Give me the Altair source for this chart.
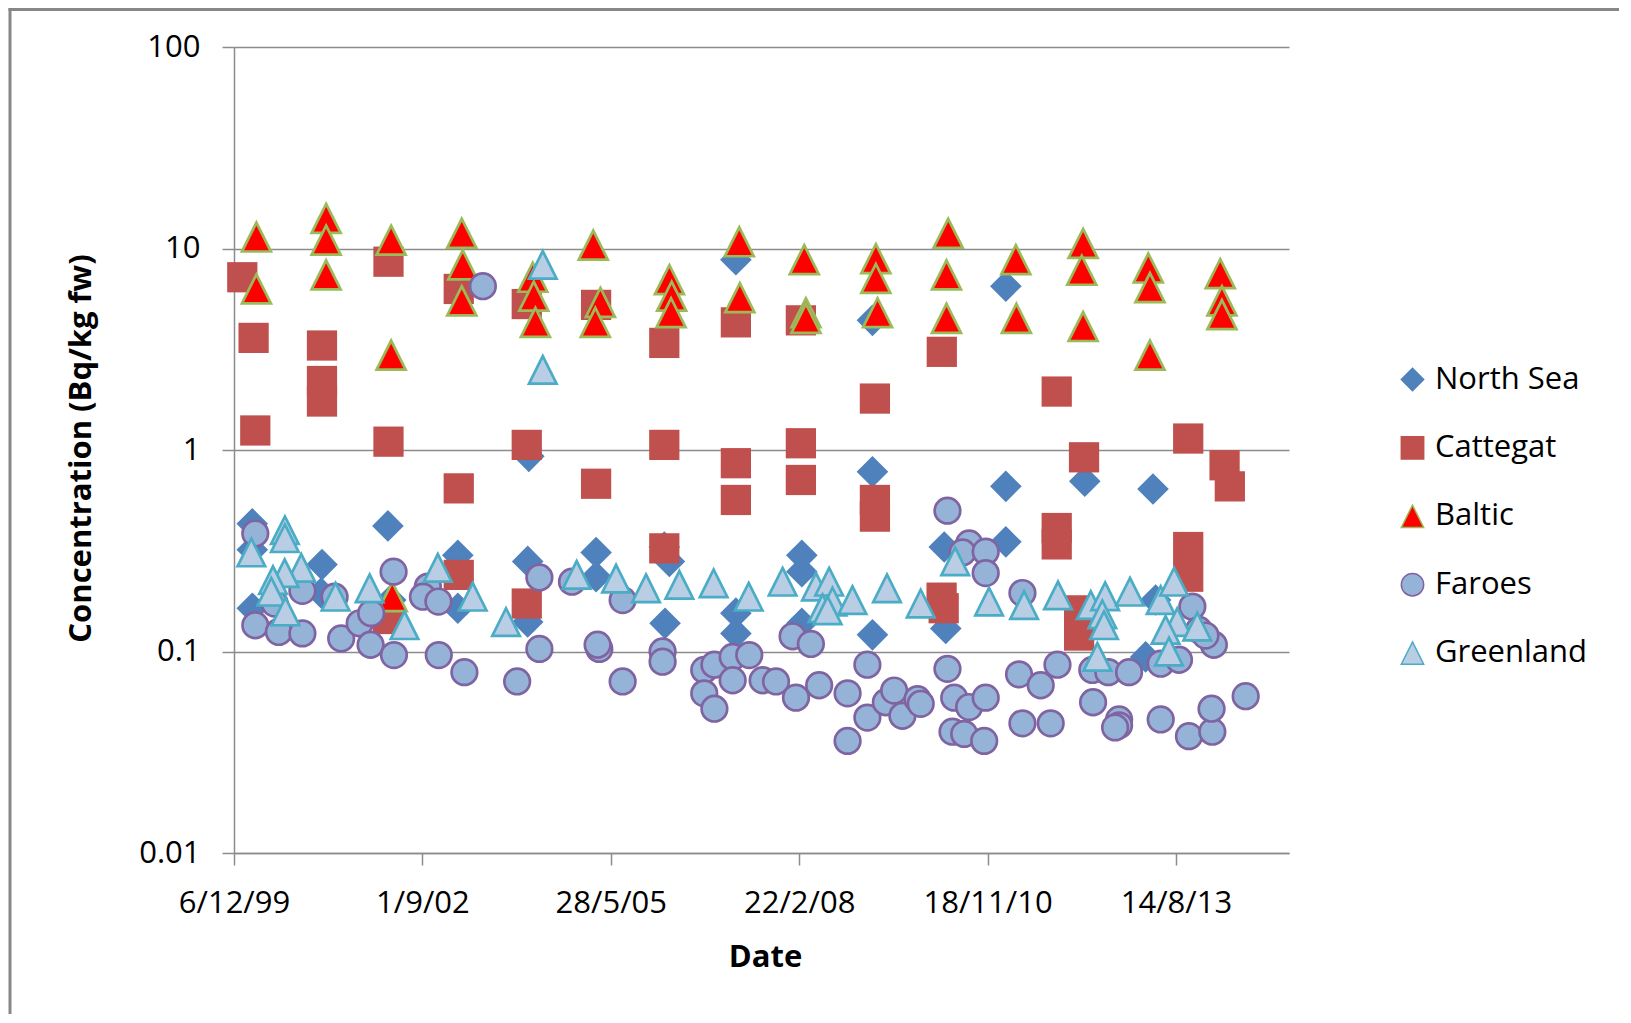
import altair as alt
import pandas as pd

# ---------------- data (dates as Excel serial day numbers) ----------------
series_names = ["North Sea", "Cattegat", "Baltic", "Faroes", "Greenland"]

ns_dates = [36597, 36597, 36597, 36967, 36963, 37317, 37332, 37688, 37688, 38065, 38059, 38059,
            38422, 38422, 38784, 38811, 38788, 39164, 39164, 39164, 39514, 39514, 39514,
            39889, 39889, 39889, 40270, 40278, 40597, 40597, 40597, 41016, 41378, 41392, 41339]
ns_vals = [0.43, 0.32, 0.164, 0.27, 0.195, 0.42, 0.18, 0.30, 0.164, 0.93, 0.28, 0.14,
           0.31, 0.235, 0.33, 0.28, 0.138, 8.8, 0.155, 0.123, 0.30, 0.249, 0.138,
           4.4, 0.78, 0.121, 0.33, 0.13, 6.5, 0.66, 0.35, 0.70, 0.64, 0.18, 0.094]

cat_dates = [36544, 36604, 36613, 36967, 36967, 36967, 37320, 37320, 37317, 37693, 37693, 37693,
             38054, 38054, 38054, 38422, 38422, 38784, 38784, 38784, 39164, 39164, 39164,
             39509, 39509, 39509, 39902, 39902, 39902, 40257, 40256, 40267, 40867, 40867, 40867,
             41012, 40986, 40986, 41565, 41565, 41565, 41758, 41786]
cat_vals = [7.2, 3.6, 1.25, 3.3, 2.2, 1.74, 8.6, 1.1, 0.145, 6.3, 0.645, 0.24,
            5.3, 1.06, 0.173, 5.25, 0.68, 3.4, 1.06, 0.325, 4.3, 0.86, 0.565,
            4.4, 1.08, 0.71, 1.8, 0.565, 0.467, 3.07, 0.185, 0.164, 1.95, 0.41, 0.34,
            0.92, 0.16, 0.12, 1.14, 0.33, 0.235, 0.84, 0.66]

bal_dates = [36619, 36619, 36989, 36989, 36989, 37334, 37334, 37340, 37709, 37714, 37709,
             38086, 38091, 38100, 38407, 38445, 38418, 38811, 38823, 38820, 39182, 39185,
             39527, 39536, 39536, 39907, 39907, 39916, 40291, 40282, 40282, 40650, 40653,
             41007, 41000, 41007, 41353, 41362, 41362, 41735, 41744, 41744]
bal_vals = [11.4, 6.3, 14.1, 11.0, 7.4, 11.0, 2.96, 0.187, 11.9, 8.3, 5.5,
            7.2, 5.8, 4.3, 10.4, 5.4, 4.3, 7.0, 5.8, 4.8, 10.8, 5.7,
            8.8, 4.8, 4.5, 8.9, 7.1, 4.8, 11.9, 7.4, 4.5, 8.8, 4.5,
            10.6, 7.8, 4.1, 8.0, 6.4, 2.96, 7.5, 5.5, 4.7]

far_dates = [36613, 36613, 36738, 36863, 36863, 36716, 37034, 37069, 37167, 37228,
             37225, 37347, 37349, 37529, 37503, 37585, 37587, 37723, 37821, 38003,
             38121, 38121, 38294, 38439, 38430, 38563, 38563, 38775, 38775, 38996,
             38996, 39050, 39050, 39147, 39147, 39235, 39306, 39377, 39483, 39465,
             39562, 39606, 39757, 39757, 39862, 39862, 39960, 40004, 40048, 40128,
             40145, 40287, 40287, 40323, 40314, 40376, 40402, 40402, 40367, 40490,
             40490, 40490, 40482, 40667, 40685, 40685, 40782, 40835, 40871, 41056,
             41060, 41141, 41198, 41198, 41177, 41251, 41419, 41419, 41516, 41569,
             41693, 41689, 41870, 41701, 41587, 41622, 41657]
far_vals = [0.385, 0.135, 0.125, 0.123, 0.20, 0.173, 0.187, 0.116, 0.138, 0.155,
            0.108, 0.249, 0.096, 0.21, 0.187, 0.177, 0.096, 0.079, 6.5, 0.071,
            0.233, 0.103, 0.222, 0.103, 0.108, 0.18, 0.071, 0.10, 0.089, 0.081,
            0.062, 0.086, 0.052, 0.094, 0.072, 0.096, 0.072, 0.071, 0.059, 0.119,
            0.109, 0.068, 0.062, 0.036, 0.086, 0.047, 0.056, 0.064, 0.048, 0.058,
            0.055, 0.5, 0.082, 0.059, 0.040, 0.039, 0.053, 0.344, 0.31, 0.313,
            0.245, 0.059, 0.036, 0.077, 0.044, 0.195, 0.068, 0.044, 0.086, 0.081,
            0.056, 0.079, 0.046, 0.043, 0.042, 0.079, 0.046, 0.087, 0.091, 0.038,
            0.040, 0.052, 0.060, 0.108, 0.167, 0.128, 0.12]

gr_dates = [36592, 36770, 36770, 36857, 36769, 36707, 36698, 36773, 37039, 37220,
            37405, 37582, 37767, 37944, 38139, 38139, 38319, 38528, 38687, 38864,
            39046, 39232, 39412, 39589, 39659, 39677, 39624, 39651, 39783, 39966,
            40145, 40328, 40508, 40694, 40874, 41048, 41124, 41109, 41118, 41083,
            41256, 41419, 41490, 41507, 41445, 41463, 41613]
gr_vals = [0.31, 0.40, 0.365, 0.26, 0.245, 0.226, 0.198, 0.158, 0.187, 0.206,
           0.135, 0.26, 0.187, 0.14, 8.3, 2.5, 0.24, 0.23, 0.206, 0.214,
           0.218, 0.187, 0.222, 0.21, 0.222, 0.177, 0.164, 0.16, 0.18, 0.206,
           0.173, 0.28, 0.177, 0.17, 0.19, 0.17, 0.188, 0.153, 0.135, 0.094,
           0.198, 0.18, 0.222, 0.14, 0.128, 0.10, 0.133]

x_tick_values = [36500, 37500, 38500, 39500, 40500, 41500]
x_tick_labels = ["6/12/99", "1/9/02", "28/5/05", "22/2/08", "18/11/10", "14/8/13"]
y_tick_values = [0.01, 0.1, 1, 10, 100]
y_tick_labels = ["0.01", "0.1", "1", "10", "100"]

# ---------------- styling ----------------
FONT = "Open Sans"
GRAY = "#8c8c8c"
TRI = "M0,-1L1,1L-1,1Z"
shapes = ["diamond", "square", TRI, "circle", TRI]
fills = ["#4F81BD", "#C0504D", "#FF0000", "#95B3D7", "#B9CDE5"]
strokes = ["#4F81BD", "#C0504D", "#9BBB59", "#8064A2", "#4BACC6"]
sizes = [1000, 915, 840, 655, 760]
stroke_widths = [0, 0, 2.7, 2.7, 2.7]

all_dates = [ns_dates, cat_dates, bal_dates, far_dates, gr_dates]
all_vals = [ns_vals, cat_vals, bal_vals, far_vals, gr_vals]

x_label_expr = ("[" + ",".join(f"'{s}'" for s in x_tick_labels) + "]"
                + f"[round((datum.value - {x_tick_values[0]}) / {x_tick_values[1] - x_tick_values[0]})]")
y_label_expr = ("[" + ",".join(f"'{s}'" for s in y_tick_labels) + "]"
                + "[round(log(datum.value) / LN10) + 2]")

x_enc = alt.X(
    "Date:Q",
    scale=alt.Scale(domain=[36500, 42100], nice=False, zero=False),
    axis=alt.Axis(
        values=x_tick_values, labelExpr=x_label_expr, title="Date", grid=False,
        tickSize=12, tickColor=GRAY, tickWidth=1.5, domainColor=GRAY, domainWidth=1.5,
        labelFont=FONT, labelFontSize=31, labelColor="black", labelPadding=38,
        labelBaseline="middle", labelFlush=False, labelOverlap=False,
        titleFont=FONT, titleFontSize=31, titleFontWeight="bold", titleColor="black",
        titleX=531, titleY=104, titleBaseline="middle",
    ),
)
y_enc = alt.Y(
    "Concentration:Q",
    scale=alt.Scale(type="log", domain=[0.01, 100], nice=False),
    axis=alt.Axis(
        values=y_tick_values, labelExpr=y_label_expr, title="Concentration (Bq/kg fw)",
        grid=True, gridColor=GRAY, gridWidth=1.5,
        tickSize=12, tickColor=GRAY, tickWidth=1.5, domainColor=GRAY, domainWidth=1.5,
        labelFont=FONT, labelFontSize=31, labelColor="black", labelPadding=22,
        labelFlush=False, labelOverlap=False,
        titleFont=FONT, titleFontSize=31, titleFontWeight="bold", titleColor="black",
        titleX=-153, titleY=401, titleAngle=270, titleBaseline="middle",
    ),
)
legend = alt.Legend(
    title=None, orient="none", legendX=1163, legendY=317,
    labelFont=FONT, labelFontSize=31, labelColor="black",
    symbolSize=500, symbolStrokeWidth=1.5, rowPadding=36.4, labelOffset=7, padding=0,
)
shape_enc = alt.Shape("Series:N", scale=alt.Scale(domain=series_names, range=shapes), legend=legend)
fill_enc = alt.Fill("Series:N", scale=alt.Scale(domain=series_names, range=fills), legend=legend)
stroke_enc = alt.Stroke("Series:N", scale=alt.Scale(domain=series_names, range=strokes), legend=legend)

layers = []
for name, ds, vs, sz, sw in zip(series_names, all_dates, all_vals, sizes, stroke_widths):
    df = pd.DataFrame({"Series": name, "Date": ds, "Concentration": vs})
    layers.append(
        alt.Chart(df).mark_point(filled=True, opacity=1, size=sz, strokeWidth=sw).encode(
            x=x_enc, y=y_enc, shape=shape_enc, fill=fill_enc, stroke=stroke_enc
        )
    )

# chart-area frame (left and top edges)
frame_df = pd.DataFrame({"k": [0]})
left_edge = alt.Chart(frame_df).mark_rule(color="#878787", strokeWidth=3).encode(
    x=alt.value(-224), y=alt.value(-39), y2=alt.value(1000)
)
top_edge = alt.Chart(frame_df).mark_rule(color="#878787", strokeWidth=3).encode(
    x=alt.value(-225.5), x2=alt.value(1400), y=alt.value(-37.5)
)

chart = (
    alt.layer(left_edge, top_edge, *layers)
    .properties(
        width=1055, height=806,
        autosize=alt.AutoSizeParams(type="none"),
        padding={"left": 226, "top": 39, "right": 330, "bottom": 161},
        background="white",
    )
    .configure_view(stroke=None)
)

chart.save("out.html", embed_options={"renderer": "svg", "actions": False})
